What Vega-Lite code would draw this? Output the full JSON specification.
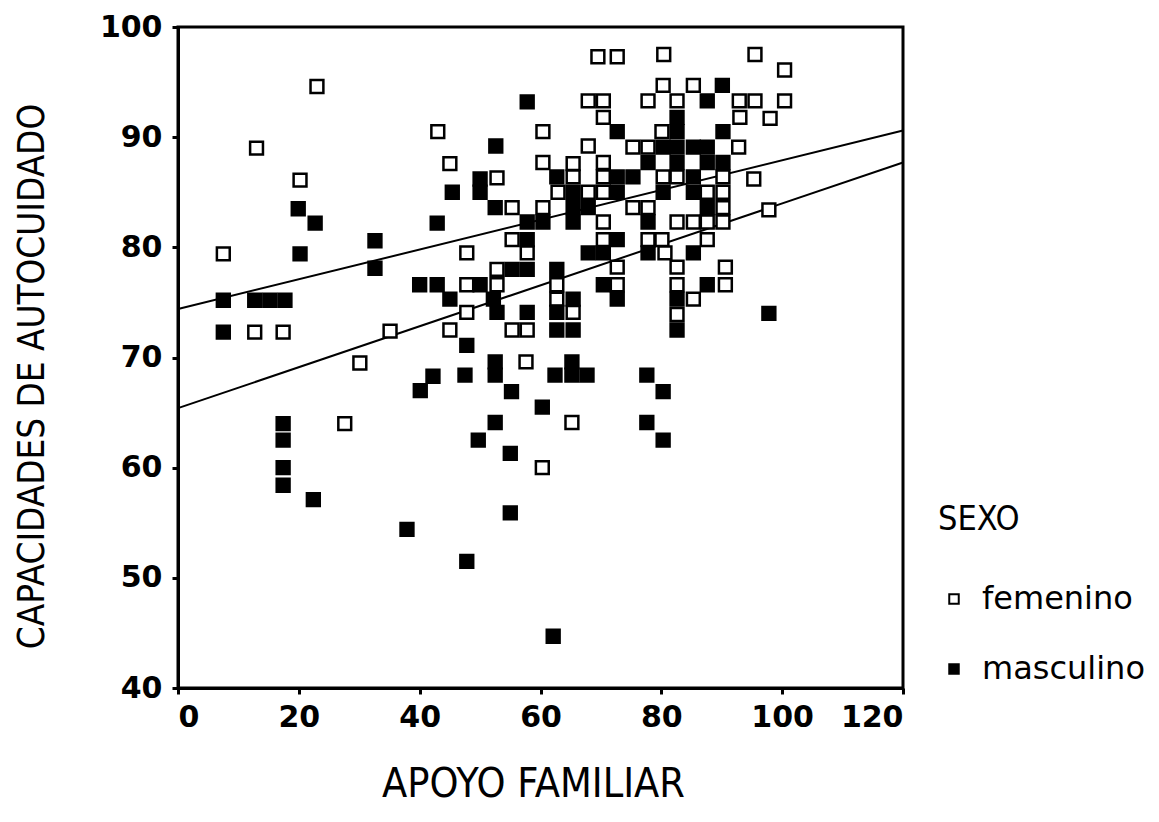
{
  "$schema": "https://vega.github.io/schema/vega-lite/v6.json",
  "autosize": "none",
  "width": 725,
  "height": 661,
  "padding": {"left": 178, "top": 27, "right": 256, "bottom": 134},
  "background": "white",
  "config": {
    "view": {"stroke": "black", "strokeWidth": 3},
    "axis": {
      "grid": false,
      "domainColor": "black",
      "domainWidth": 3,
      "tickColor": "black",
      "tickWidth": 3,
      "tickSize": 6,
      "labelColor": "black",
      "labelFont": "DejaVu Sans",
      "labelFontWeight": "bold",
      "labelFontSize": 30,
      "titleColor": "black",
      "titleFont": "DejaVu Sans Condensed, Liberation Sans, Roboto, sans-serif",
      "titleFontWeight": "normal",
      "titleFontSize": 32
    }
  },
  "datasets": {
    "pts": [
      {"apoyo": 69.5, "cap": 97.3, "sexo": "femenino"},
      {"apoyo": 72.7, "cap": 97.3, "sexo": "femenino"},
      {"apoyo": 80.4, "cap": 97.5, "sexo": "femenino"},
      {"apoyo": 95.5, "cap": 97.5, "sexo": "femenino"},
      {"apoyo": 100.4, "cap": 96.1, "sexo": "femenino"},
      {"apoyo": 80.3, "cap": 94.7, "sexo": "femenino"},
      {"apoyo": 85.3, "cap": 94.7, "sexo": "femenino"},
      {"apoyo": 90.1, "cap": 94.7, "sexo": "masculino"},
      {"apoyo": 23, "cap": 94.6, "sexo": "femenino"},
      {"apoyo": 57.8, "cap": 93.2, "sexo": "masculino"},
      {"apoyo": 67.9, "cap": 93.3, "sexo": "femenino"},
      {"apoyo": 70.4, "cap": 93.3, "sexo": "femenino"},
      {"apoyo": 77.8, "cap": 93.3, "sexo": "femenino"},
      {"apoyo": 82.6, "cap": 93.3, "sexo": "femenino"},
      {"apoyo": 92.9, "cap": 93.3, "sexo": "femenino"},
      {"apoyo": 95.5, "cap": 93.3, "sexo": "femenino"},
      {"apoyo": 100.4, "cap": 93.3, "sexo": "femenino"},
      {"apoyo": 87.6, "cap": 93.3, "sexo": "masculino"},
      {"apoyo": 70.4, "cap": 91.8, "sexo": "femenino"},
      {"apoyo": 93, "cap": 91.8, "sexo": "femenino"},
      {"apoyo": 98, "cap": 91.7, "sexo": "femenino"},
      {"apoyo": 82.6, "cap": 91.8, "sexo": "masculino"},
      {"apoyo": 43, "cap": 90.5, "sexo": "femenino"},
      {"apoyo": 60.4, "cap": 90.5, "sexo": "femenino"},
      {"apoyo": 80.1, "cap": 90.5, "sexo": "femenino"},
      {"apoyo": 72.7, "cap": 90.5, "sexo": "masculino"},
      {"apoyo": 82.6, "cap": 90.5, "sexo": "masculino"},
      {"apoyo": 90.2, "cap": 90.5, "sexo": "masculino"},
      {"apoyo": 13, "cap": 89, "sexo": "femenino"},
      {"apoyo": 67.9, "cap": 89.2, "sexo": "femenino"},
      {"apoyo": 75.3, "cap": 89.1, "sexo": "femenino"},
      {"apoyo": 77.8, "cap": 89.1, "sexo": "femenino"},
      {"apoyo": 92.8, "cap": 89.1, "sexo": "femenino"},
      {"apoyo": 52.6, "cap": 89.2, "sexo": "masculino"},
      {"apoyo": 80.3, "cap": 89.1, "sexo": "masculino"},
      {"apoyo": 82.6, "cap": 89.1, "sexo": "masculino"},
      {"apoyo": 85.3, "cap": 89.1, "sexo": "masculino"},
      {"apoyo": 87.6, "cap": 89.1, "sexo": "masculino"},
      {"apoyo": 45, "cap": 87.6, "sexo": "femenino"},
      {"apoyo": 60.4, "cap": 87.7, "sexo": "femenino"},
      {"apoyo": 65.4, "cap": 87.6, "sexo": "femenino"},
      {"apoyo": 70.4, "cap": 87.7, "sexo": "femenino"},
      {"apoyo": 77.8, "cap": 87.7, "sexo": "masculino"},
      {"apoyo": 82.6, "cap": 87.7, "sexo": "masculino"},
      {"apoyo": 87.6, "cap": 87.7, "sexo": "masculino"},
      {"apoyo": 90.2, "cap": 87.7, "sexo": "masculino"},
      {"apoyo": 20.2, "cap": 86.1, "sexo": "femenino"},
      {"apoyo": 52.8, "cap": 86.3, "sexo": "femenino"},
      {"apoyo": 65.4, "cap": 86.4, "sexo": "femenino"},
      {"apoyo": 70.4, "cap": 86.4, "sexo": "femenino"},
      {"apoyo": 80.3, "cap": 86.4, "sexo": "femenino"},
      {"apoyo": 82.6, "cap": 86.4, "sexo": "femenino"},
      {"apoyo": 90.2, "cap": 86.4, "sexo": "femenino"},
      {"apoyo": 95.3, "cap": 86.2, "sexo": "femenino"},
      {"apoyo": 50, "cap": 86.2, "sexo": "masculino"},
      {"apoyo": 62.7, "cap": 86.4, "sexo": "masculino"},
      {"apoyo": 72.7, "cap": 86.4, "sexo": "masculino"},
      {"apoyo": 75.3, "cap": 86.4, "sexo": "masculino"},
      {"apoyo": 85.3, "cap": 86.4, "sexo": "masculino"},
      {"apoyo": 62.9, "cap": 85, "sexo": "femenino"},
      {"apoyo": 67.9, "cap": 85, "sexo": "femenino"},
      {"apoyo": 70.4, "cap": 85, "sexo": "femenino"},
      {"apoyo": 87.6, "cap": 85, "sexo": "femenino"},
      {"apoyo": 90.2, "cap": 85, "sexo": "femenino"},
      {"apoyo": 45.4, "cap": 85, "sexo": "masculino"},
      {"apoyo": 50, "cap": 85, "sexo": "masculino"},
      {"apoyo": 65.4, "cap": 85, "sexo": "masculino"},
      {"apoyo": 72.7, "cap": 85, "sexo": "masculino"},
      {"apoyo": 80.3, "cap": 85, "sexo": "masculino"},
      {"apoyo": 85.3, "cap": 85, "sexo": "masculino"},
      {"apoyo": 55.3, "cap": 83.6, "sexo": "femenino"},
      {"apoyo": 60.4, "cap": 83.6, "sexo": "femenino"},
      {"apoyo": 75.3, "cap": 83.6, "sexo": "femenino"},
      {"apoyo": 77.8, "cap": 83.6, "sexo": "femenino"},
      {"apoyo": 90.2, "cap": 83.6, "sexo": "femenino"},
      {"apoyo": 97.8, "cap": 83.4, "sexo": "femenino"},
      {"apoyo": 19.9, "cap": 83.5, "sexo": "masculino"},
      {"apoyo": 52.5, "cap": 83.6, "sexo": "masculino"},
      {"apoyo": 65.4, "cap": 83.6, "sexo": "masculino"},
      {"apoyo": 67.9, "cap": 83.6, "sexo": "masculino"},
      {"apoyo": 87.6, "cap": 83.6, "sexo": "masculino"},
      {"apoyo": 70.4, "cap": 82.3, "sexo": "femenino"},
      {"apoyo": 82.6, "cap": 82.3, "sexo": "femenino"},
      {"apoyo": 85.3, "cap": 82.3, "sexo": "femenino"},
      {"apoyo": 87.6, "cap": 82.3, "sexo": "femenino"},
      {"apoyo": 90.2, "cap": 82.3, "sexo": "femenino"},
      {"apoyo": 22.7, "cap": 82.2, "sexo": "masculino"},
      {"apoyo": 42.9, "cap": 82.2, "sexo": "masculino"},
      {"apoyo": 57.8, "cap": 82.3, "sexo": "masculino"},
      {"apoyo": 60.4, "cap": 82.3, "sexo": "masculino"},
      {"apoyo": 65.4, "cap": 82.3, "sexo": "masculino"},
      {"apoyo": 77.8, "cap": 82.3, "sexo": "masculino"},
      {"apoyo": 55.3, "cap": 80.7, "sexo": "femenino"},
      {"apoyo": 70.4, "cap": 80.7, "sexo": "femenino"},
      {"apoyo": 77.8, "cap": 80.7, "sexo": "femenino"},
      {"apoyo": 80.1, "cap": 80.7, "sexo": "femenino"},
      {"apoyo": 87.6, "cap": 80.7, "sexo": "femenino"},
      {"apoyo": 32.6, "cap": 80.6, "sexo": "masculino"},
      {"apoyo": 57.8, "cap": 80.7, "sexo": "masculino"},
      {"apoyo": 72.7, "cap": 80.7, "sexo": "masculino"},
      {"apoyo": 7.5, "cap": 79.4, "sexo": "femenino"},
      {"apoyo": 47.8, "cap": 79.5, "sexo": "femenino"},
      {"apoyo": 57.8, "cap": 79.5, "sexo": "femenino"},
      {"apoyo": 80.6, "cap": 79.5, "sexo": "femenino"},
      {"apoyo": 20.2, "cap": 79.4, "sexo": "masculino"},
      {"apoyo": 67.9, "cap": 79.5, "sexo": "masculino"},
      {"apoyo": 70.4, "cap": 79.5, "sexo": "masculino"},
      {"apoyo": 77.8, "cap": 79.5, "sexo": "masculino"},
      {"apoyo": 85.3, "cap": 79.5, "sexo": "masculino"},
      {"apoyo": 52.8, "cap": 78, "sexo": "femenino"},
      {"apoyo": 72.7, "cap": 78.2, "sexo": "femenino"},
      {"apoyo": 82.6, "cap": 78.2, "sexo": "femenino"},
      {"apoyo": 90.6, "cap": 78.2, "sexo": "femenino"},
      {"apoyo": 32.6, "cap": 78.1, "sexo": "masculino"},
      {"apoyo": 55.3, "cap": 78, "sexo": "masculino"},
      {"apoyo": 57.8, "cap": 78, "sexo": "masculino"},
      {"apoyo": 62.7, "cap": 78, "sexo": "masculino"},
      {"apoyo": 47.8, "cap": 76.6, "sexo": "femenino"},
      {"apoyo": 52.8, "cap": 76.6, "sexo": "femenino"},
      {"apoyo": 62.7, "cap": 76.6, "sexo": "femenino"},
      {"apoyo": 72.7, "cap": 76.6, "sexo": "femenino"},
      {"apoyo": 82.6, "cap": 76.6, "sexo": "femenino"},
      {"apoyo": 90.6, "cap": 76.6, "sexo": "femenino"},
      {"apoyo": 40, "cap": 76.6, "sexo": "masculino"},
      {"apoyo": 42.9, "cap": 76.6, "sexo": "masculino"},
      {"apoyo": 50, "cap": 76.6, "sexo": "masculino"},
      {"apoyo": 70.4, "cap": 76.6, "sexo": "masculino"},
      {"apoyo": 87.6, "cap": 76.6, "sexo": "masculino"},
      {"apoyo": 85.3, "cap": 75.3, "sexo": "femenino"},
      {"apoyo": 62.7, "cap": 75.3, "sexo": "femenino"},
      {"apoyo": 7.5, "cap": 75.2, "sexo": "masculino"},
      {"apoyo": 12.7, "cap": 75.2, "sexo": "masculino"},
      {"apoyo": 15.2, "cap": 75.2, "sexo": "masculino"},
      {"apoyo": 17.7, "cap": 75.2, "sexo": "masculino"},
      {"apoyo": 45, "cap": 75.3, "sexo": "masculino"},
      {"apoyo": 52.2, "cap": 75.3, "sexo": "masculino"},
      {"apoyo": 65.4, "cap": 75.3, "sexo": "masculino"},
      {"apoyo": 72.7, "cap": 75.3, "sexo": "masculino"},
      {"apoyo": 82.6, "cap": 75.3, "sexo": "masculino"},
      {"apoyo": 47.8, "cap": 74.1, "sexo": "femenino"},
      {"apoyo": 65.4, "cap": 74.1, "sexo": "femenino"},
      {"apoyo": 82.6, "cap": 73.9, "sexo": "femenino"},
      {"apoyo": 52.8, "cap": 74.1, "sexo": "masculino"},
      {"apoyo": 57.8, "cap": 74.1, "sexo": "masculino"},
      {"apoyo": 62.7, "cap": 74.1, "sexo": "masculino"},
      {"apoyo": 97.8, "cap": 74, "sexo": "masculino"},
      {"apoyo": 12.7, "cap": 72.3, "sexo": "femenino"},
      {"apoyo": 17.4, "cap": 72.3, "sexo": "femenino"},
      {"apoyo": 35.1, "cap": 72.4, "sexo": "femenino"},
      {"apoyo": 45, "cap": 72.5, "sexo": "femenino"},
      {"apoyo": 55.3, "cap": 72.5, "sexo": "femenino"},
      {"apoyo": 57.8, "cap": 72.5, "sexo": "femenino"},
      {"apoyo": 7.5, "cap": 72.3, "sexo": "masculino"},
      {"apoyo": 62.7, "cap": 72.5, "sexo": "masculino"},
      {"apoyo": 65.4, "cap": 72.5, "sexo": "masculino"},
      {"apoyo": 82.6, "cap": 72.5, "sexo": "masculino"},
      {"apoyo": 47.8, "cap": 71.1, "sexo": "masculino"},
      {"apoyo": 30.1, "cap": 69.5, "sexo": "femenino"},
      {"apoyo": 57.6, "cap": 69.6, "sexo": "femenino"},
      {"apoyo": 52.5, "cap": 69.6, "sexo": "masculino"},
      {"apoyo": 65.2, "cap": 69.6, "sexo": "masculino"},
      {"apoyo": 42.2, "cap": 68.3, "sexo": "masculino"},
      {"apoyo": 47.5, "cap": 68.4, "sexo": "masculino"},
      {"apoyo": 52.5, "cap": 68.4, "sexo": "masculino"},
      {"apoyo": 62.4, "cap": 68.4, "sexo": "masculino"},
      {"apoyo": 65.2, "cap": 68.4, "sexo": "masculino"},
      {"apoyo": 67.7, "cap": 68.4, "sexo": "masculino"},
      {"apoyo": 77.6, "cap": 68.4, "sexo": "masculino"},
      {"apoyo": 40.1, "cap": 67, "sexo": "masculino"},
      {"apoyo": 55.2, "cap": 66.9, "sexo": "masculino"},
      {"apoyo": 80.3, "cap": 66.9, "sexo": "masculino"},
      {"apoyo": 60.3, "cap": 65.5, "sexo": "masculino"},
      {"apoyo": 27.6, "cap": 64, "sexo": "femenino"},
      {"apoyo": 65.2, "cap": 64.1, "sexo": "femenino"},
      {"apoyo": 17.4, "cap": 64, "sexo": "masculino"},
      {"apoyo": 52.5, "cap": 64.1, "sexo": "masculino"},
      {"apoyo": 77.6, "cap": 64.1, "sexo": "masculino"},
      {"apoyo": 17.4, "cap": 62.5, "sexo": "masculino"},
      {"apoyo": 49.7, "cap": 62.5, "sexo": "masculino"},
      {"apoyo": 80.3, "cap": 62.5, "sexo": "masculino"},
      {"apoyo": 55, "cap": 61.3, "sexo": "masculino"},
      {"apoyo": 60.3, "cap": 60, "sexo": "femenino"},
      {"apoyo": 17.4, "cap": 60, "sexo": "masculino"},
      {"apoyo": 17.4, "cap": 58.4, "sexo": "masculino"},
      {"apoyo": 22.4, "cap": 57.1, "sexo": "masculino"},
      {"apoyo": 55, "cap": 55.9, "sexo": "masculino"},
      {"apoyo": 37.9, "cap": 54.4, "sexo": "masculino"},
      {"apoyo": 47.8, "cap": 51.5, "sexo": "masculino"},
      {"apoyo": 62.1, "cap": 44.7, "sexo": "masculino"}
    ],
    "fits": [
      {"apoyo": 0, "cap": 74.4, "sexo": "masculino"},
      {"apoyo": 120, "cap": 90.6, "sexo": "masculino"},
      {"apoyo": 0, "cap": 65.4, "sexo": "femenino"},
      {"apoyo": 120, "cap": 87.7, "sexo": "femenino"}
    ]
  },
  "layer": [
    {
      "data": {"name": "fits"},
      "mark": {"type": "line", "color": "black", "strokeWidth": 2},
      "encoding": {
        "x": {"field": "apoyo", "type": "quantitative"},
        "y": {"field": "cap", "type": "quantitative"},
        "detail": {"field": "sexo"}
      }
    },
    {
      "data": {"name": "pts"},
      "mark": {"type": "point", "shape": "square", "size": 165, "filled": true, "stroke": "black", "strokeWidth": 2.5, "opacity": 1},
      "encoding": {
        "x": {
          "field": "apoyo", "type": "quantitative",
          "scale": {"domain": [0, 120], "nice": false},
          "axis": {"values": [0, 20, 40, 60, 80, 100, 120], "title": "APOYO FAMILIAR", "titleFontSize": 41, "titlePadding": 32, "titleX": 355, "labelPadding": 8}
        },
        "y": {
          "field": "cap", "type": "quantitative",
          "scale": {"domain": [40, 100], "nice": false, "zero": false},
          "axis": {"values": [40, 50, 60, 70, 80, 90, 100], "title": "CAPACIDADES DE AUTOCUIDADO", "titleFontSize": 36.5, "titlePadding": 48, "titleY": 349, "labelPadding": 10}
        },
        "fill": {
          "field": "sexo", "type": "nominal",
          "scale": {"domain": ["femenino", "masculino"], "range": ["white", "black"]},
          "legend": {
            "title": "SEXO",
            "orient": "none",
            "legendX": 760,
            "legendY": 476,
            "symbolType": "square",
            "symbolSize": 90,
            "symbolStrokeColor": "black",
            "symbolStrokeWidth": 2,
            "symbolOpacity": 1,
            "titleFont": "DejaVu Sans Condensed, Liberation Sans, Roboto, sans-serif",
            "titleFontSize": 34,
            "titleFontWeight": "normal",
            "titleColor": "black",
            "titlePadding": 46,
            "labelFont": "DejaVu Sans",
            "labelFontSize": 32,
            "labelColor": "black",
            "labelLimit": 300,
            "rowPadding": 38,
            "labelOffset": 12
          }
        }
      }
    }
  ]
}
